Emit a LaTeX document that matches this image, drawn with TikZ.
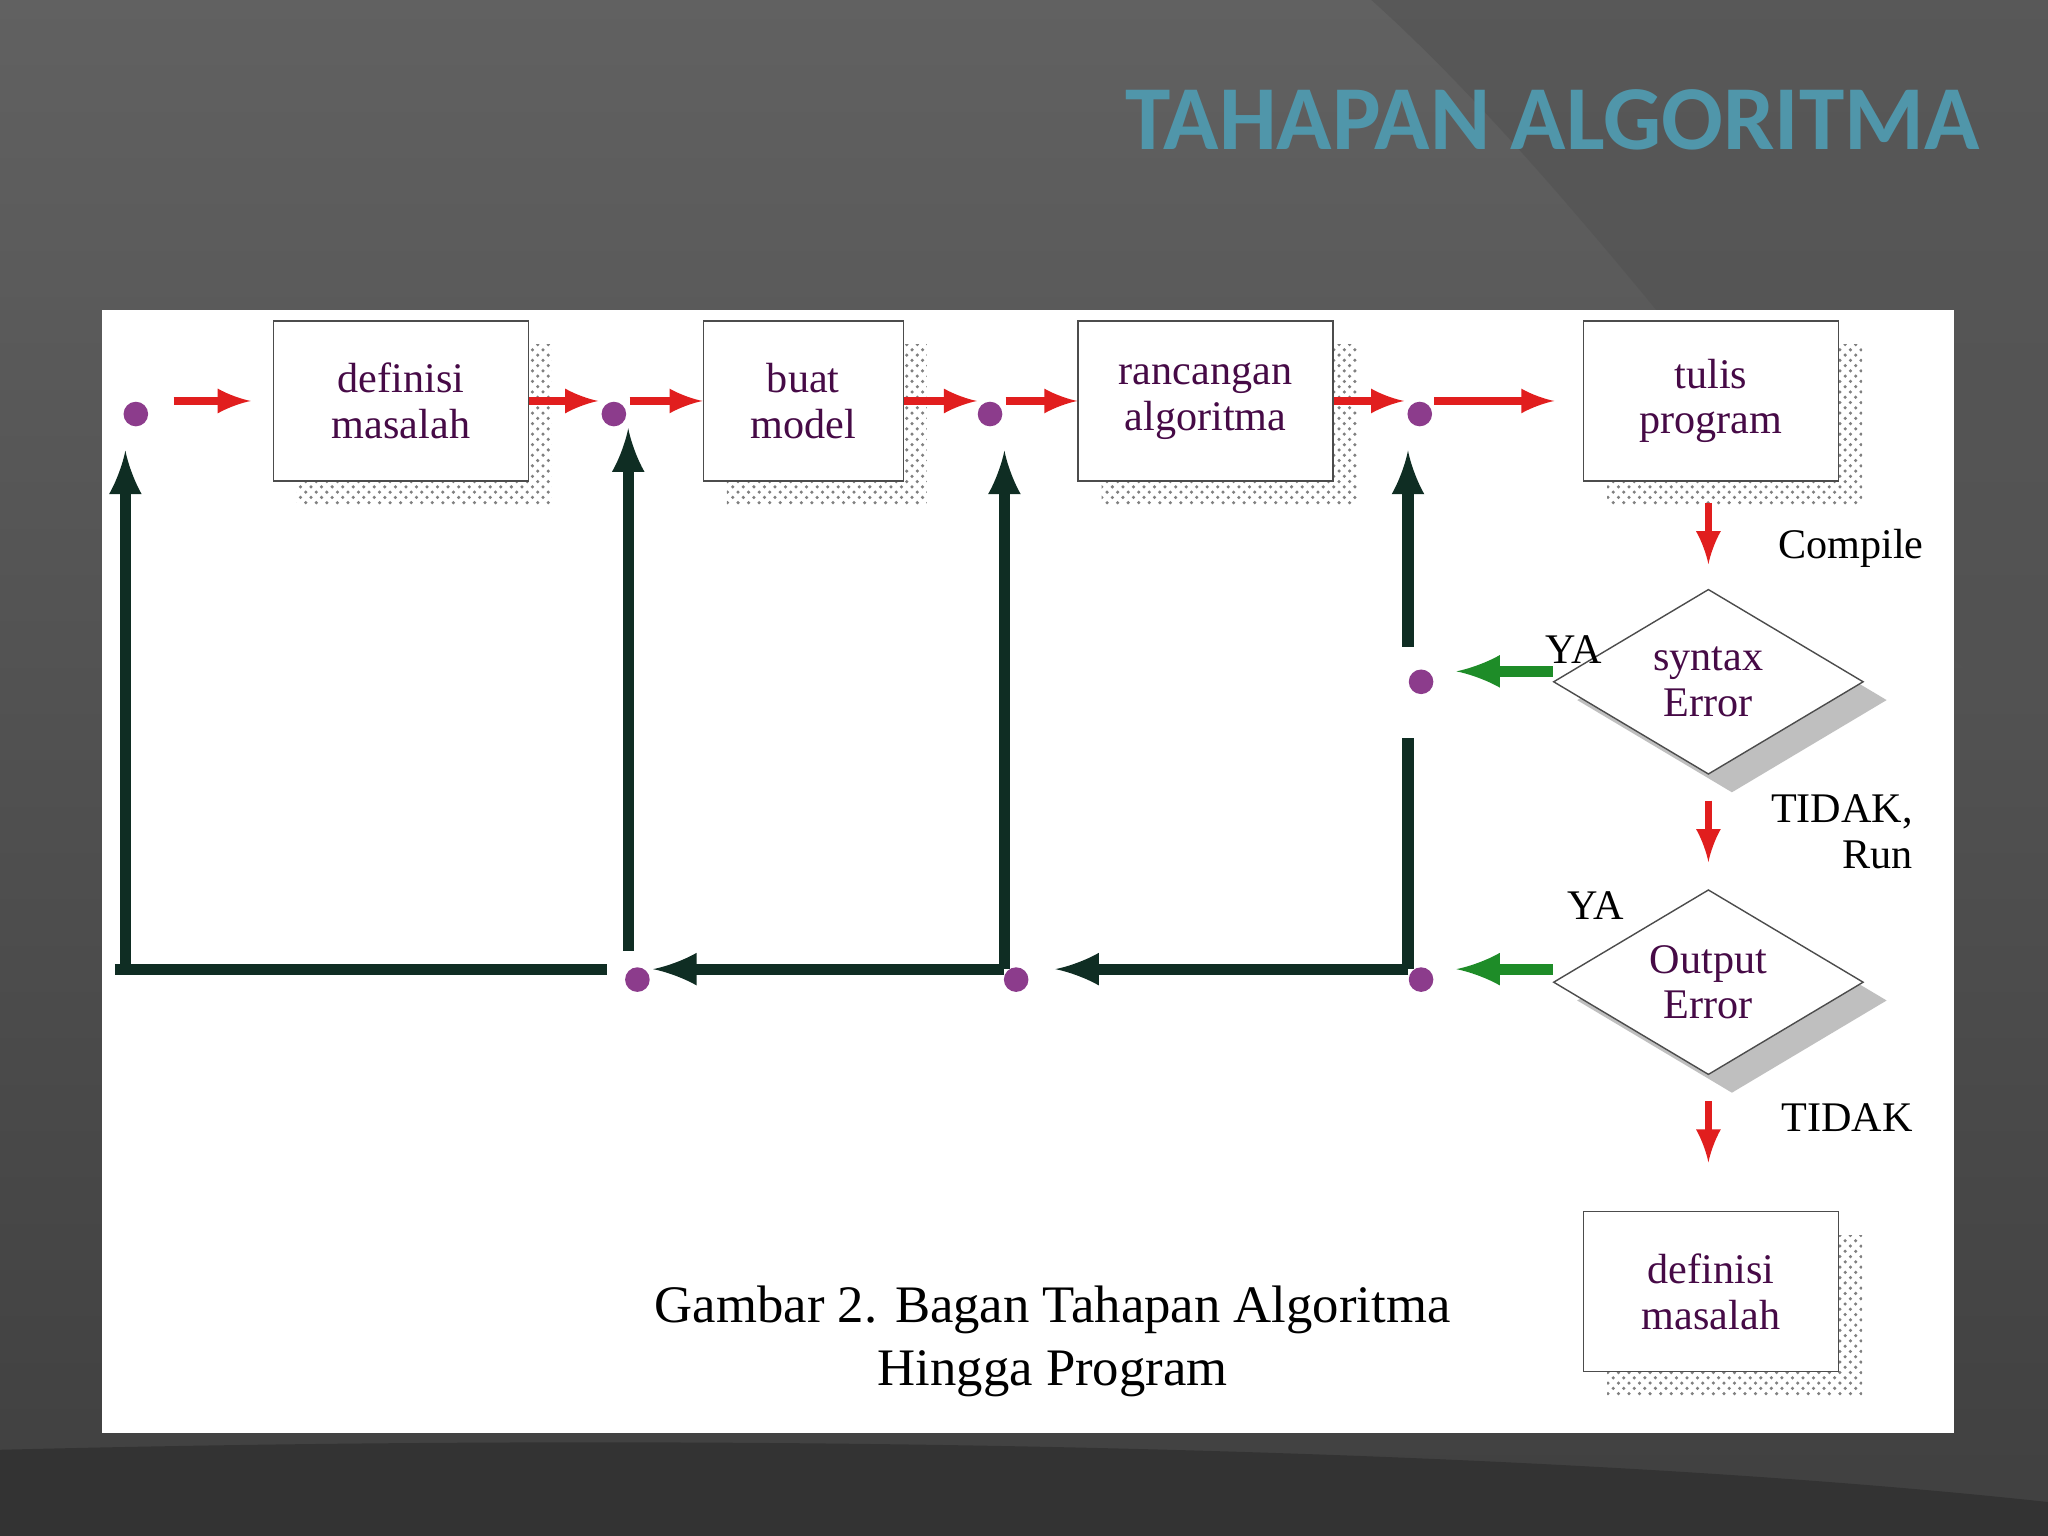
\documentclass[tikz,border=0pt]{standalone}
\usepackage{fontspec}
\setmainfont{Liberation Serif}
\newfontfamily\titlefont{Carlito}
\usetikzlibrary{positioning,shapes.geometric,patterns}

\definecolor{cRed}{RGB}{225,30,30}
\definecolor{cDark}{RGB}{15,45,35}
\definecolor{cGreen}{RGB}{30,140,40}
\definecolor{cDot}{RGB}{140,60,140}
\definecolor{cText}{RGB}{70,10,70}
\definecolor{cTitle}{RGB}{80,150,170}

\tikzset{
  stepbox/.style={draw=black!70, fill=white, minimum width=2.55cm, minimum height=1.6cm,
    align=center, text=cText, font=\fontsize{12}{13}\selectfont, inner sep=2pt},
  shadowbox/.style={fill=gray!45, pattern color=gray, minimum width=2.55cm, minimum height=1.6cm},
  decision/.style={diamond, aspect=1.7, draw=black!70, fill=white, minimum width=3.1cm,
    minimum height=1.85cm, align=center, text=cText, font=\fontsize{12}{13}\selectfont, inner sep=0pt},
  redarrow/.style={-latex, cRed, line width=2.2pt},
  backarrow/.style={-latex, cDark, line width=3.2pt},
  greenarrow/.style={-latex, cGreen, line width=3.2pt},
  pt/.style={circle, fill=cDot, inner sep=0pt, minimum size=7pt},
  lbl/.style={font=\fontsize{12}{13}\selectfont, text=black}
}

\begin{document}
\begin{tikzpicture}[x=0.01306cm, y=-0.01306cm]
\useasboundingbox (0,0) rectangle (1568,1176);
% background
\shade[top color=black!62, bottom color=black!75] (0,0) rectangle (1568,1176);
\fill[black!68, opacity=0.6] (1050,0) .. controls (1250,180) and (1450,500) .. (1568,560) -- (1568,0) -- cycle;
\fill[black!80] (0,1110) .. controls (600,1095) and (1200,1110) .. (1568,1150) -- (1568,1176) -- (0,1176) -- cycle;
\node[anchor=east, text=cTitle, font=\titlefont\bfseries\fontsize{26}{26}\selectfont] (title) at (1525,92) {TAHAPAN ALGORITMA};
% panel
\fill[white] (78,237) rectangle (1496,1097);

% boxes with shadows
\foreach \n/\x/\y/\w/\t in {b1/307/307/2.55/{definisi\\masalah}, b2/615/307/2.0/{buat\\model}, b3/923/307/2.55/{rancangan\\algoritma}, b4/1310/307/2.55/{tulis\\program}, b5/1310/989/2.55/{definisi\\masalah}} {
  \node[shadowbox, pattern=crosshatch dots, minimum width=\w cm] at (\x+18,\y+18) {};
  \node[stepbox, minimum width=\w cm] (\n) at (\x,\y) {\t};
}
\foreach \n/\y/\t in {d1/522/{syntax\\Error}, d2/752/{Output\\Error}} {
  \node[decision, draw=none, fill=gray!50] at (1326,\y+14) {};
  \node[decision] (\n) at (1308,\y) {\t};
}

% dots
\node[pt] (p0) at (104,317) {};
\node[pt] (p1) at (470,317) {};
\node[pt] (p2) at (758,317) {};
\node[pt] (p3) at (1087,317) {};
\node[pt] (q3) at (1088,522) {};
\node[pt] (r1) at (488,750) {};
\node[pt] (r2) at (778,750) {};
\node[pt] (r3) at (1088,750) {};

% forward red arrows
\draw[redarrow] (133,307) -- (192,307);
\draw[redarrow] (b1.east) -- (458,307);
\draw[redarrow] (482,307) -- (b2.west);
\draw[redarrow] (b2.east) -- (748,307);
\draw[redarrow] (770,307) -- (b3.west);
\draw[redarrow] (b3.east) -- (1075,307);
\draw[redarrow] (1098,307) -- (1190,307);
\draw[redarrow] (1308,385) -- (1308,432);
\draw[redarrow] (1308,613) -- (1308,660);
\draw[redarrow] (1308,843) -- (1308,890);

% back arrows
\coordinate (c0) at (96,742);
\coordinate (c1) at (481,728);
\coordinate (c2) at (769,742);
\coordinate (c3) at (1078,742);
\draw[backarrow, -] (88,742) -- (465,742);
\draw[backarrow] (c2) -- (500,742);
\draw[backarrow] (c3) -- (808,742);
\draw[backarrow] (c0) -- (96,345);
\draw[backarrow] (c1) -- (481,328);
\draw[backarrow] (c2) -- (769,345);
\draw[backarrow, -] (c3) -- (1078,565);
\draw[backarrow] (1078,495) -- (1078,345);
\draw[greenarrow] (d1.west) ++(0,-8) -- (1115,514);
\draw[greenarrow] (d2.west) ++(0,-10) -- (1115,742);

% labels
\node[lbl, anchor=west] (compile) at (1352,420) {Compile};
\node[lbl] (ya1) at (1205,497) {YA};
\node[lbl, anchor=east, align=right] (tidak1) at (1474,637) {TIDAK,\\Run};
\node[lbl] (ya2) at (1222,693) {YA};
\node[lbl, anchor=east] (tidak2) at (1474,856) {TIDAK};
\node[align=center, font=\fontsize{15}{18}\selectfont] (caption) at (806,1027) {Gambar 2. Bagan Tahapan Algoritma\\Hingga Program};
\end{tikzpicture}
\end{document}
